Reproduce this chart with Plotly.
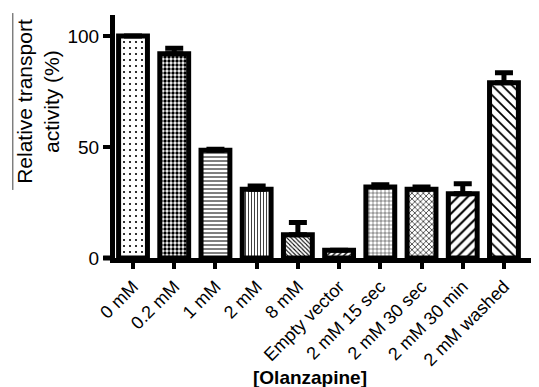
import plotly.graph_objects as go

categories = ["0 mM", "0.2 mM", "1 mM", "2 mM", "8 mM", "Empty vector",
              "2 mM 15 sec", "2 mM 30 sec", "2 mM 30 min", "2 mM washed"]
values = [100, 92, 48.5, 31, 10.5, 3.5, 32, 31, 29, 79]
errors = [0, 2.5, 0.5, 1.5, 5.5, 0, 1, 1, 4.5, 4.5]
patterns = [".", ".", "-", "|", "\\", "/", "+", "x", "/", "\\"]
pattern_sizes = [6, 4, 4, 3, 3, 4, 4, 4, 7, 7]
pattern_solid = [0.1, 0.55, 0.25, 0.25, 0.35, 0.35, 0.2, 0.3, 0.3, 0.25]

fig = go.Figure()
fig.add_trace(go.Bar(
    x=categories, y=values,
    width=0.7,
    marker=dict(
        color="white",
        line=dict(color="black", width=5),
        pattern=dict(shape=patterns, size=pattern_sizes, solidity=pattern_solid,
                     fgcolor="black", bgcolor="white", fillmode="replace"),
    ),
    error_y=dict(type="data", array=errors, arrayminus=[0] * len(errors),
                 symmetric=False, color="black", thickness=5, width=9),
))

fig.add_shape(type="line", xref="paper", yref="paper",
              x0=-0.241, x1=-0.241, y0=0.28, y1=1.008,
              line=dict(color="#444", width=1))
fig.add_shape(type="line", xref="paper", yref="paper",
              x0=-0.028, x1=0.0, y0=0, y1=0,
              line=dict(color="black", width=5))

fig.add_annotation(text="Relative transport<br>activity (%)", xref="paper", yref="paper",
                   x=-0.182, y=0.646, textangle=-90, showarrow=False,
                   font=dict(size=21, color="black", family="Liberation Sans, Arial"),
                   xanchor="center", yanchor="middle")
fig.add_annotation(text="<b>[Olanzapine]</b>", xref="paper", yref="paper",
                   x=0.46, y=-0.49, showarrow=False,
                   font=dict(size=19, color="black", family="Liberation Sans, Arial"),
                   xanchor="center", yanchor="middle")

# page body has an 8px default margin: shrink the figure to fit the 539x387 window
fig.update_layout(
    width=531, height=379,
    margin=dict(l=107, r=0, t=7, b=129),
    plot_bgcolor="white", paper_bgcolor="white",
    showlegend=False,
    font=dict(family="Liberation Sans, Arial", size=18, color="black"),
)
fig.update_xaxes(range=[-0.437, 9.85], showline=True, linecolor="black", linewidth=5,
                 ticks="outside", ticklen=6, tickwidth=4, tickcolor="black",
                 tickangle=-45, tickfont=dict(size=18), showgrid=False, zeroline=False,
                 automargin=False)
fig.update_yaxes(range=[0, 109.5], showline=True, linecolor="black", linewidth=5,
                 ticks="outside", ticklen=7, tickwidth=4, tickcolor="black",
                 tickvals=[0, 50, 100], tickfont=dict(size=19), showgrid=False,
                 zeroline=False, automargin=False)

fig.write_html("out.html")
